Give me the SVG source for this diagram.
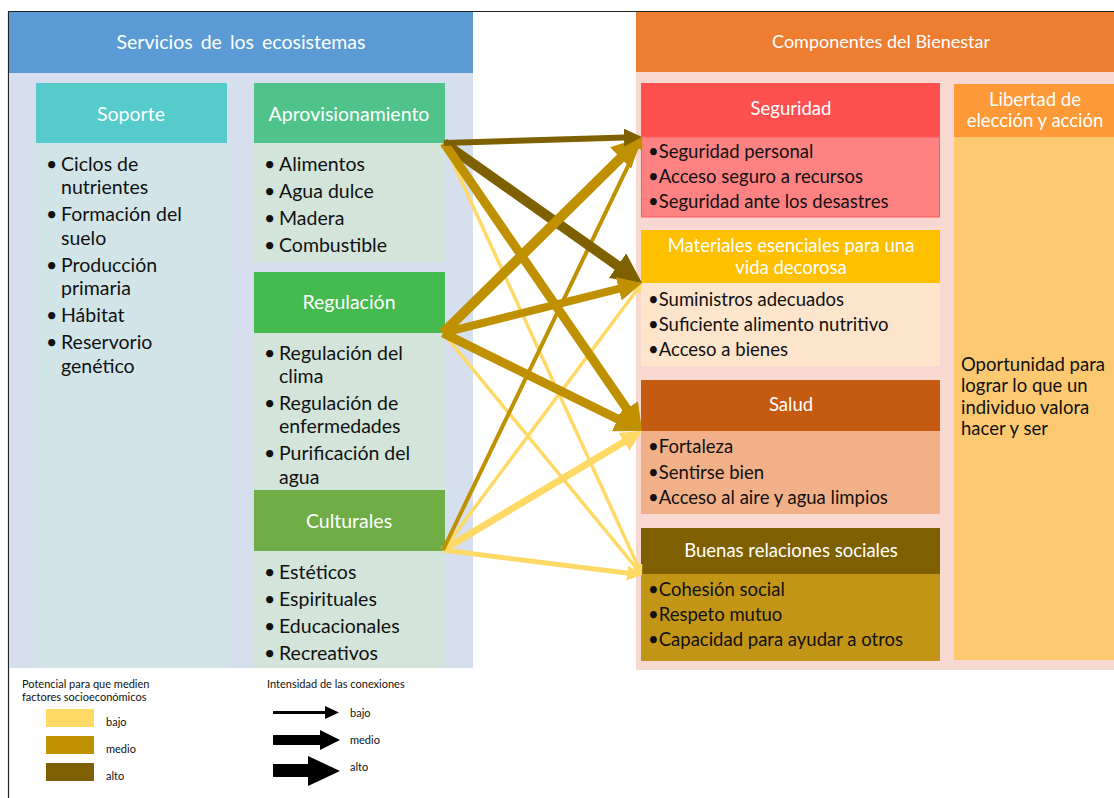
<svg xmlns="http://www.w3.org/2000/svg" width="1114" height="798" viewBox="0 0 1114 798">
<defs>
<style>
.t{font-family:Lato,"Open Sans","Liberation Sans",sans-serif;}
.hw{font-size:19.5px;fill:#ffffff;text-anchor:middle;}
.hr{font-size:18.5px;fill:#ffffff;text-anchor:middle;}
.it{font-size:19.5px;fill:#111111;}
.ir{font-size:18.5px;fill:#111111;}
.lg{font-size:11px;fill:#111111;}
.c{fill:none;stroke-linecap:butt;}
</style>
<marker id="hDark" viewBox="0 0 10 10" refX="5" refY="5" markerWidth="3" markerHeight="3" markerUnits="strokeWidth" orient="auto"><path d="M0,0 L10,5 L0,10 z" fill="#7F6000"/></marker>
<marker id="hGold" viewBox="0 0 10 10" refX="5" refY="5" markerWidth="3" markerHeight="3" markerUnits="strokeWidth" orient="auto"><path d="M0,0 L10,5 L0,10 z" fill="#BF9000"/></marker>
<marker id="hLight" viewBox="0 0 10 10" refX="5" refY="5" markerWidth="3" markerHeight="3" markerUnits="strokeWidth" orient="auto"><path d="M0,0 L10,5 L0,10 z" fill="#FFD966"/></marker>
</defs>
<rect x="0" y="0" width="1114" height="798" fill="#ffffff"/>

<!-- frame -->
<path d="M8.5,798 L8.5,11.5 L1114,11.5" fill="none" stroke="#222222" stroke-width="1.2"/>

<!-- left panel -->
<g id="servicios">
<rect x="9" y="12" width="464" height="656" fill="#D5DFEE"/>
<rect x="9" y="12" width="464" height="61" fill="#5B9BD5"/>
<text class="t hw" x="241" y="49" style="word-spacing:3px">Servicios de los ecosistemas</text>
</g>

<g id="soporte">
<rect x="36" y="83" width="191" height="60" fill="#55CBCB"/>
<rect x="36" y="143" width="191" height="525" fill="#D1E5E9"/>
<text class="t hw" x="131" y="121">Soporte</text>
<g class="t it">
<text x="46" y="171">•</text><text x="61" y="171">Ciclos de</text>
<text x="61" y="194">nutrientes</text>
<text x="46" y="221">•</text><text x="61" y="221">Formación del</text>
<text x="61" y="245">suelo</text>
<text x="46" y="272">•</text><text x="61" y="272">Producción</text>
<text x="61" y="295">primaria</text>
<text x="46" y="322">•</text><text x="61" y="322">Hábitat</text>
<text x="46" y="349">•</text><text x="61" y="349">Reservorio</text>
<text x="61" y="373">genético</text>
</g>
</g>

<g id="aprovisionamiento">
<rect x="254" y="83" width="191" height="60" fill="#4FC38A"/>
<rect x="254" y="143" width="191" height="119" fill="#D3E5DA"/>
<text class="t hw" x="349" y="121">Aprovisionamiento</text>
<g class="t it">
<text x="264" y="171">•</text><text x="279" y="171">Alimentos</text>
<text x="264" y="198">•</text><text x="279" y="198">Agua dulce</text>
<text x="264" y="225">•</text><text x="279" y="225">Madera</text>
<text x="264" y="252">•</text><text x="279" y="252">Combustible</text>
</g>
</g>

<g id="regulacion">
<rect x="254" y="272" width="191" height="61" fill="#45BA4F"/>
<rect x="254" y="333" width="191" height="157" fill="#D3E5DA"/>
<text class="t hw" x="349" y="309">Regulación</text>
<g class="t it">
<text x="264" y="360">•</text><text x="279" y="360">Regulación del</text>
<text x="279" y="383">clima</text>
<text x="264" y="410">•</text><text x="279" y="410">Regulación de</text>
<text x="279" y="433">enfermedades</text>
<text x="264" y="460">•</text><text x="279" y="460">Purificación del</text>
<text x="279" y="484">agua</text>
</g>
</g>

<g id="culturales">
<rect x="254" y="490" width="191" height="61" fill="#70AD47"/>
<rect x="254" y="551" width="191" height="117" fill="#D3E5DA"/>
<text class="t hw" x="349" y="528">Culturales</text>
<g class="t it">
<text x="264" y="579">•</text><text x="279" y="579">Estéticos</text>
<text x="264" y="606">•</text><text x="279" y="606">Espirituales</text>
<text x="264" y="633">•</text><text x="279" y="633">Educacionales</text>
<text x="264" y="660">•</text><text x="279" y="660">Recreativos</text>
</g>
</g>

<!-- right panel -->
<g id="bienestar">
<rect x="636" y="12" width="478" height="658" fill="#F8D9D1"/>
<rect x="636" y="12" width="478" height="60" fill="#ED7D31"/>
<text class="t hw" x="881" y="48" style="font-size:18px">Componentes del Bienestar</text>
</g>

<g id="seguridad">
<rect x="641" y="83" width="299" height="54" fill="#FF5050"/>
<rect x="641.5" y="137" width="298" height="80" fill="#FF8282" stroke="#FF5A5A" stroke-width="1"/>
<text class="t hr" x="791" y="115">Seguridad</text>
<g class="t ir">
<text x="648" y="158">•Seguridad personal</text>
<text x="648" y="183">•Acceso seguro a recursos</text>
<text x="648" y="208">•Seguridad ante los desastres</text>
</g>
</g>

<g id="materiales">
<rect x="641" y="230" width="299" height="53" fill="#FFC000"/>
<rect x="641" y="283" width="299" height="83" fill="#FDE5CC"/>
<text class="t hr" x="791" y="252">Materiales esenciales para una</text>
<text class="t hr" x="791" y="274">vida decorosa</text>
<g class="t ir">
<text x="648" y="306">•Suministros adecuados</text>
<text x="648" y="331">•Suficiente alimento nutritivo</text>
<text x="648" y="356">•Acceso a bienes</text>
</g>
</g>

<g id="salud">
<rect x="641" y="380" width="299" height="51" fill="#C55A11"/>
<rect x="641" y="431" width="299" height="83" fill="#F2B088"/>
<text class="t hr" x="791" y="411">Salud</text>
<g class="t ir">
<text x="648" y="453">•Fortaleza</text>
<text x="648" y="479">•Sentirse bien</text>
<text x="648" y="504">•Acceso al aire y agua limpios</text>
</g>
</g>

<g id="relaciones">
<rect x="641" y="528" width="299" height="46" fill="#7F6000"/>
<rect x="641" y="574" width="299" height="87" fill="#C39516"/>
<text class="t hr" x="791" y="557">Buenas relaciones sociales</text>
<g class="t ir">
<text x="648" y="596">•Cohesión social</text>
<text x="648" y="621">•Respeto mutuo</text>
<text x="648" y="646">•Capacidad para ayudar a otros</text>
</g>
</g>

<g id="libertad">
<rect x="954" y="84" width="160" height="53" fill="#FD9936"/>
<rect x="954" y="137" width="160" height="523" fill="#FCC970"/>
<text class="t hr" x="1035" y="106">Libertad de</text>
<text class="t hr" x="1035" y="127">elección y acción</text>
<g class="t ir">
<text x="961" y="371">Oportunidad para</text>
<text x="961" y="392">lograr lo que un</text>
<text x="961" y="414">individuo valora</text>
<text x="961" y="435">hacer y ser</text>
</g>
</g>

<!-- connectors -->
<g id="connectors">
<line class="c" x1="443" y1="550" x2="638.9" y2="287.2" stroke="#FFD966" stroke-width="3.5" marker-end="url(#hLight)"/>
<line class="c" x1="443" y1="333" x2="638.7" y2="570.9" stroke="#FFD966" stroke-width="3.5" marker-end="url(#hLight)"/>
<line class="c" x1="444" y1="143" x2="639.8" y2="570.2" stroke="#FFD966" stroke-width="3.5" marker-end="url(#hLight)"/>
<line class="c" x1="443" y1="550" x2="633.0" y2="436.4" stroke="#FFD966" stroke-width="7" marker-end="url(#hLight)"/>
<line class="c" x1="443" y1="550" x2="634.6" y2="574.1" stroke="#FFD966" stroke-width="5" marker-end="url(#hLight)"/>
<line class="c" x1="443" y1="550" x2="639.4" y2="142.4" stroke="#BF9000" stroke-width="4" marker-end="url(#hGold)"/>
<line class="c" x1="444" y1="143" x2="629.8" y2="274.3" stroke="#7F6000" stroke-width="10" marker-end="url(#hDark)"/>
<line class="c" x1="444" y1="143" x2="634.4" y2="419.9" stroke="#BF9000" stroke-width="9" marker-end="url(#hGold)"/>
<line class="c" x1="443" y1="333" x2="629.9" y2="425.0" stroke="#BF9000" stroke-width="9" marker-end="url(#hGold)"/>
<line class="c" x1="443" y1="333" x2="630.4" y2="285.9" stroke="#BF9000" stroke-width="8" marker-end="url(#hGold)"/>
<line class="c" x1="443" y1="333" x2="631.3" y2="147.5" stroke="#BF9000" stroke-width="10" marker-end="url(#hGold)"/>
<line class="c" x1="444" y1="143" x2="633.0" y2="137.3" stroke="#7F6000" stroke-width="6" marker-end="url(#hDark)"/>
</g>

<!-- legend -->
<g id="legend-potencial">
<text class="t lg" x="22" y="688">Potencial para que medien</text>
<text class="t lg" x="22" y="701">factores socioeconómicos</text>
<rect x="46" y="709" width="48" height="18" fill="#FFD966"/>
<rect x="46" y="736" width="48" height="18" fill="#BF9000"/>
<rect x="46" y="763" width="48" height="18" fill="#7F6000"/>
<text class="t lg" x="106" y="726">bajo</text>
<text class="t lg" x="106" y="753">medio</text>
<text class="t lg" x="106" y="780">alto</text>
</g>
<g id="legend-intensidad">
<text class="t lg" x="267" y="688">Intensidad de las conexiones</text>
<polygon points="273,711 325,711 325,706 339,712.5 325,719 325,714 273,714" fill="#000000"/>
<polygon points="273,735 320,735 320,730 340,740 320,750 320,745 273,745" fill="#000000"/>
<polygon points="273,764 308,764 308,756 340,771 308,786 308,777 273,777" fill="#000000"/>
<text class="t lg" x="350" y="717">bajo</text>
<text class="t lg" x="350" y="744">medio</text>
<text class="t lg" x="350" y="771">alto</text>
</g>
</svg>
